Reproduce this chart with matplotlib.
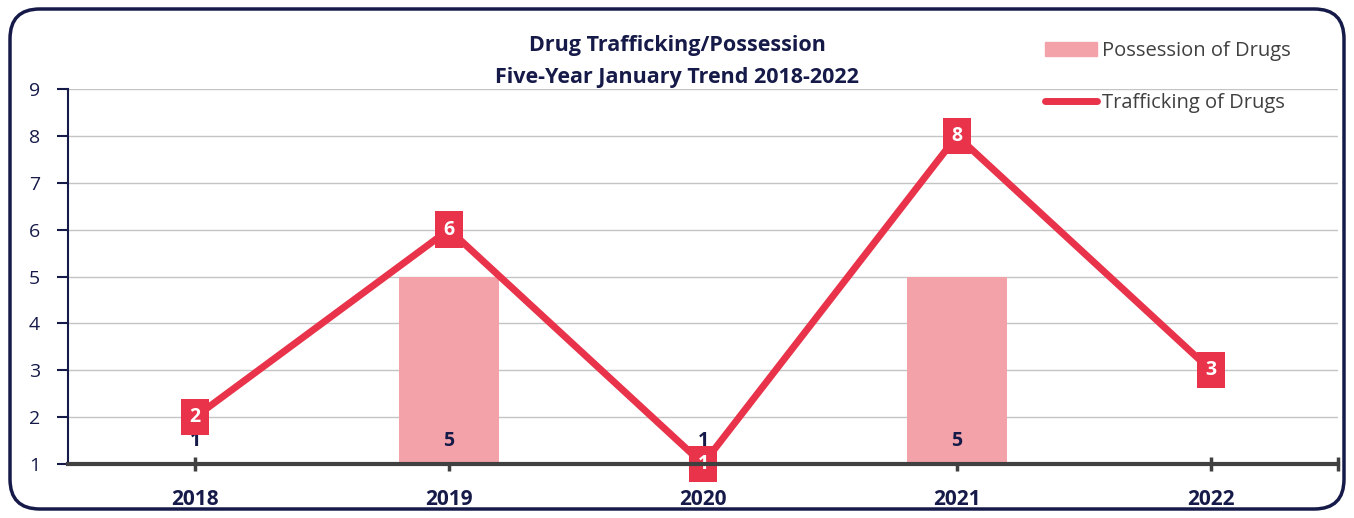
import matplotlib.pyplot as plt
import matplotlib.ticker as ticker
from matplotlib.patches import FancyBboxPatch
from matplotlib.lines import Line2D
from matplotlib.patches import Patch

# data
years = ['2018', '2019', '2020', '2021', '2022']
possession = [1, 5, 1, 5, 0]
trafficking = [2, 6, 1, 8, 3]

navy = '#161a48'
red = '#e8334a'
pink = '#f4a2a9'

plt.rcParams['font.family'] = ['Open Sans', 'DejaVu Sans']

fig = plt.figure(figsize=(13.54, 5.18), dpi=100)
ax = fig.add_axes([68 / 1354, 1 - 464 / 518, (1338 - 68) / 1354, (464 - 89) / 518])

x = list(range(len(years)))

# bars start from zero, the axis cuts them at 1 like the original
ax.bar(x, possession, width=0.39, color=pink, zorder=2)
ax.plot(x, trafficking, color=red, lw=5, zorder=3, solid_capstyle='round')

# bar labels sit near the base
for xi, v in zip(x, possession):
    if v >= 1:
        ax.text(xi, 1.48, str(v), ha='center', va='center', color=navy,
                fontsize=14, fontweight='bold', zorder=4)

# line labels in red boxes
for xi, v in zip(x, trafficking):
    ax.text(xi, v, str(v), ha='center', va='center', color='white',
            fontsize=14, fontweight='bold', zorder=5,
            bbox=dict(boxstyle='square,pad=0.42', fc=red, ec='none'))

ax.set_xlim(-0.5, 4.5)
ax.set_ylim(1, 9)
ax.yaxis.set_major_locator(ticker.MultipleLocator(1))
ax.grid(axis='y', color='#c4c4c4', lw=1, zorder=0)
ax.set_axisbelow(True)

for s in ['top', 'right']:
    ax.spines[s].set_visible(False)
ax.spines['left'].set_color(navy)
ax.spines['left'].set_linewidth(1.5)
ax.spines['bottom'].set_color('#404040')
ax.spines['bottom'].set_linewidth(3)
ax.spines['bottom'].set_zorder(6)

ax.set_xticks(x + [4.5])
ax.set_xticklabels(years + [''])
ax.tick_params(axis='x', direction='inout', length=10, width=2.5, color='#404040',
               pad=13, labelsize=15, labelcolor=navy)
for t in ax.get_xticklabels():
    t.set_fontweight('bold')
ax.tick_params(axis='y', direction='out', length=8, width=1.5, color=navy,
               pad=12, labelsize=14, labelcolor=navy)

fig.text(0.5, 1 - 46 / 518, 'Drug Trafficking/Possession', ha='center', va='center',
         fontsize=15.5, fontweight='bold', color=navy)
fig.text(0.5, 1 - 77 / 518, 'Five-Year January Trend 2018-2022', ha='center', va='center',
         fontsize=15.5, fontweight='bold', color=navy)

handles = [Patch(color=pink), Line2D([0], [0], color=red, lw=5, solid_capstyle='round')]
leg = fig.legend(handles, ['Possession of Drugs', 'Trafficking of Drugs'],
                 loc='upper left', bbox_to_anchor=(1027 / 1354, 1 - 23 / 518),
                 frameon=False, fontsize=14.5, labelspacing=1.6,
                 handlelength=2.6, handletextpad=0.2)
for t in leg.get_texts():
    t.set_color('#404040')

border = FancyBboxPatch((10 / 1354, 9 / 518), 1334 / 1354, 500 / 518,
                        boxstyle='round,pad=0,rounding_size=0.022',
                        transform=fig.transFigure, fill=False,
                        ec=navy, lw=2.5, mutation_aspect=1354 / 518)
fig.patches.append(border)

fig.savefig('out.png', dpi=100)
